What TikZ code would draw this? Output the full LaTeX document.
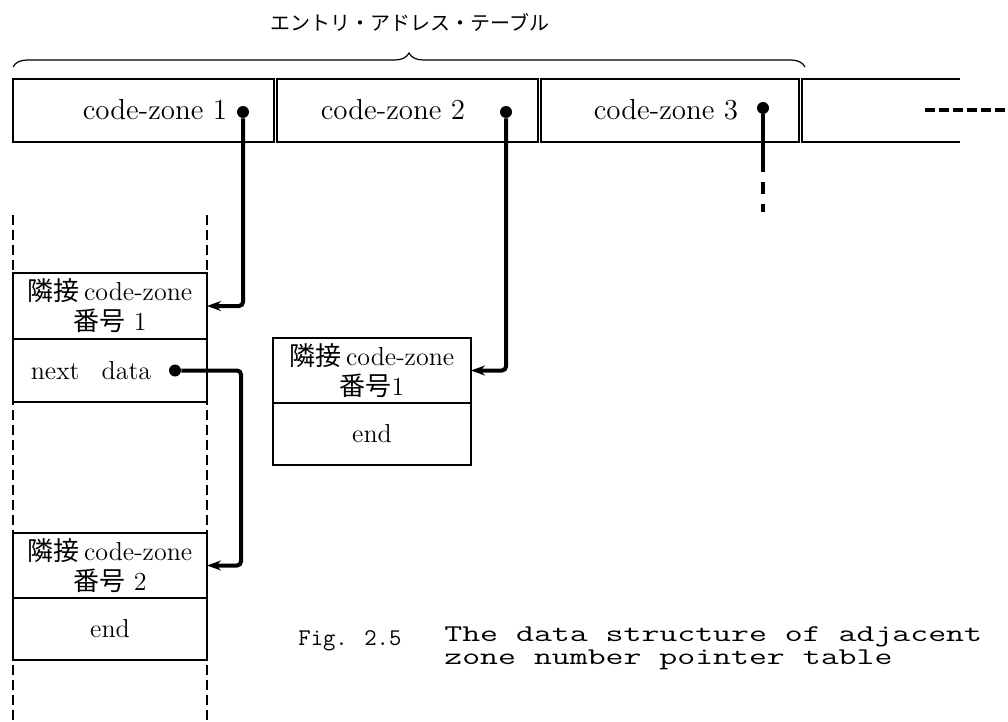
\documentclass[tikz,border=0pt]{standalone}
\usepackage{fontspec}
\usepackage{tikz}
\usetikzlibrary{positioning, arrows.meta, decorations.pathreplacing}
\newfontfamily\jpfont{Noto Sans CJK JP}
\newfontfamily\capfont[FakeStretch=1.45]{Latin Modern Mono}

\begin{document}
\begin{tikzpicture}[x=0.5pt, y=-0.5pt,
    cell/.style={draw, line width=1pt, minimum height=31.5pt, inner sep=0pt, outer sep=0pt},
    box/.style={draw, line width=1.1pt, fill=white, minimum width=97pt, inner sep=0pt, outer sep=0pt, align=center, font=\fontsize{13}{15}\selectfont},
    dot/.style={circle, fill, minimum size=6pt, inner sep=0pt},
    link/.style={line width=2pt, rounded corners=2pt, -{Stealth[length=7pt, width=5pt]}},
    guide/.style={line width=0.6pt, dash pattern=on 5pt off 2.5pt}]
\useasboundingbox (0,0) rectangle (1008,722);
% entry address table
\node[cell, minimum width=130.5pt] (z1) at (143.5,110.5) {};
\node[cell, minimum width=130.5pt] (z2) at (407.5,110.5) {};
\node[cell, minimum width=129pt] (z3) at (670,110.5) {};
\draw[line width=1pt] (960,79) -- (802,79) -- (802,142) -- (960,142);
\node[font=\fontsize{14.5}{16}\selectfont] (t1) at (155,110) {code-zone 1};
\node[font=\fontsize{14.5}{16}\selectfont] (t2) at (393,110) {code-zone 2};
\node[font=\fontsize{14.5}{16}\selectfont] (t3) at (666,110) {code-zone 3};
\draw[decorate, decoration={brace, amplitude=7pt}, line width=0.6pt] ([yshift=6pt]z1.north west) -- ([xshift=3pt, yshift=6pt]z3.north east);
\node[font=\jpfont\fontsize{10}{12}\selectfont] (lbl) at (410,22) {エントリ・アドレス・テーブル};
% list columns
\coordinate (g1) at (13,215); \coordinate (g2) at (13,722);
\coordinate (g3) at (207,215); \coordinate (g4) at (207,722);
\draw[guide] (g1) -- (g2) (g3) -- (g4);
\node[box, minimum height=33pt] (a1) at (110,306) {{\jpfont 隣接}\,code-zone\\{\jpfont 番号} 1};
\node[box, minimum height=31.5pt, below=0pt of a1] (a2) {next\hspace{11pt}data\hspace{19pt}};
\node[box, minimum width=99pt, minimum height=32.5pt] (b1) at (372,370.5) {{\jpfont 隣接}\,code-zone\\{\jpfont 番号}1};
\node[box, minimum width=99pt, minimum height=31pt, below=0pt of b1] (b2) {end};
\node[box, minimum height=32.5pt] (c1) at (110,565.5) {{\jpfont 隣接}\,code-zone\\{\jpfont 番号} 2};
\node[box, minimum height=31pt, below=0pt of c1] (c2) {end};
% pointers
\node[dot] (d1) at (243,112) {};
\node[dot] (d2) at (506,112) {};
\node[dot] (d3) at (763,108) {};
\node[dot] (dn) at (175,370.5) {};
\draw[link] (d1) |- (a1.east);
\draw[link] (d2) |- (b1.east);
\coordinate (bend) at (241,370.5);
\draw[link] (dn) -- (bend) |- (c1.east);
\coordinate (d3a) at (763,160); \coordinate (d3b) at (763,212);
\draw[line width=2pt] (d3) -- (d3a);
\draw[line width=2pt, dash pattern=on 6pt off 5pt] (d3a) -- (d3b);% continues
\coordinate (m1) at (925,110); \coordinate (m2) at (1008,110);
\draw[line width=2pt, dash pattern=on 5pt off 2pt] (m1) -- (m2);
% caption
\node[font=\ttfamily\fontsize{12}{11.5}\selectfont, anchor=base west, inner sep=0pt] (fig) at (298,645) {Fig. 2.5};
\node[font=\capfont\fontsize{12}{11.5}\selectfont, anchor=north west, align=left, inner sep=0pt] (cap) at (444,626) {The data structure of adjacent\\zone number pointer table};
\end{tikzpicture}
\end{document}
